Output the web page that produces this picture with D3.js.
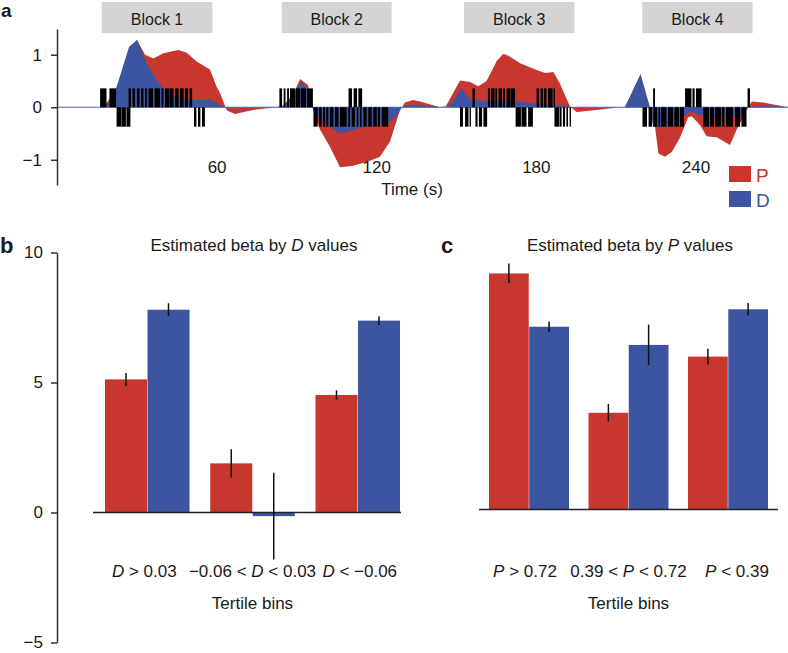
<!DOCTYPE html>
<html><head><meta charset="utf-8">
<script src="https://cdn.jsdelivr.net/npm/d3@7"></script>
<style>
body{margin:0;background:#fff}
svg{display:block}
text{font-family:"Liberation Sans",Arial,Helvetica,sans-serif;fill:#1a1a1a}
</style>
</head><body>
<svg id="chart" width="788" height="653"></svg>
<script>
// ---------- Panel a data ----------
const timeTicks = [60, 120, 180, 240];
const blockLabels = ["Block 1", "Block 2", "Block 3", "Block 4"];
const blockStart = [16.8, 84.5, 153.0, 220.0];
const blockEnd = [58.4, 125.8, 194.5, 261.5];

const pTime = [0,16.2,17.7,22.6,27.1,30.1,33.1,36.2,40.0,45.6,48.8,52.5,57.5,60.0,61.3,63.2,63.9,66.9,73.7,82.6,84.6,88.3,91.4,94.4,95.8,97.0,98.9,102.6,106.4,110.9,116.4,121.4,125.2,128.9,130.8,133.8,136.5,144.0,146.2,151.5,155.3,158.4,161.5,165.3,167.8,169.7,174.1,180.3,183.5,186.6,189.1,192.9,195.4,202.9,211.7,213.5,219.4,222.3,224.8,226.1,228.6,231.1,234.2,237.3,238.6,241.7,244.2,248.0,253.0,255.5,259.3,261.2,265.5,274.8];
const pValue = [0,0,0.02,0.35,1.12,1.28,1.0,0.93,1.03,1.09,1.04,0.87,0.72,0.39,0.27,0.02,-0.06,-0.13,-0.05,0,0.02,0.2,0.54,0.42,0.05,-0.15,-0.43,-0.75,-1.14,-1.12,-1.04,-0.94,-0.65,-0.06,0.09,0.14,0.11,0,0.02,0.51,0.48,0.40,0.50,0.88,1.02,0.98,0.84,0.71,0.65,0.67,0.45,0.01,-0.09,-0.05,0,0,0.63,0,-0.37,-0.88,-0.94,-0.85,-0.58,-0.19,-0.17,-0.34,-0.55,-0.57,-0.72,-0.43,-0.05,0.11,0.09,0];

const dTime = [0,16.2,17.7,18.8,19.9,22.6,27.1,30.1,33.7,37.5,40.0,43.7,51.2,58.2,62.0,63.5,82.6,85.7,88.3,92.0,93.9,95.8,97.6,101.9,106.4,113.9,121.4,125.2,127.8,129.6,132.7,140.2,144.0,147.1,149.6,152.1,155.3,161.5,172.8,177.8,190.3,193.6,213.5,219.4,222.9,224.1,229.3,233.1,235.3,238.0,241.7,249.2,256.8,259.8,264.3,274.8];
const dValue = [0,0,0.03,0.1,0.04,0.42,1.15,1.28,0.84,0.52,0.36,0.2,0.14,0.14,0.02,0,0,0.05,0.23,0.49,0.36,0,-0.15,-0.35,-0.5,-0.4,-0.32,-0.28,-0.15,0,0.05,0.03,0,0,0.17,0.36,0.14,0.12,0.12,0.08,0.03,0,0,0.63,0,-0.37,-0.37,-0.34,-0.18,-0.08,-0.15,-0.2,-0.15,0,0.03,0];

const eventUpLevel = 0.36;
const eventDownLevel = -0.37;
const upEvents = [
 [16.2,18.6],[19.7,22.2],[26.9,27.8],[28.4,29.3],[30.1,31.0],[31.6,32.5],[33.1,33.8],[34.4,36.1],[36.7,38.7],[39.3,40.0],[40.6,42.1],[42.3,43.8],[44.4,45.7],[46.2,47.6],[48.1,49.2],[49.8,50.8],
 [83.6,84.6],[85.2,85.9],[86.5,87.2],[87.6,89.5],[89.8,91.4],[91.7,93.6],[94.0,96.2],[109.6,110.9],[111.5,112.8],[113.3,114.7],
 [156.2,157.1],[162.0,162.8],[163.2,164.5],[164.8,165.4],[166.0,167.3],[167.7,168.4],[169.0,170.5],[170.7,172.2],[180.3,181.2],[181.8,182.7],[183.1,184.0],[184.6,186.3],[186.7,187.2],
 [224.1,224.8],[236.1,238.5],[238.9,239.7],[240.2,242.3],[259.6,260.5]
];
const downEvents = [
 [22.4,24.1],[24.2,25.9],[26.1,27.6],[51.5,52.4],[53.0,53.9],[54.5,55.6],
 [96.4,98.0],[98.5,99.5],[100.0,100.8],[101.2,102.0],[102.6,103.9],[104.5,105.8],[106.4,108.9],[109.5,110.2],[110.8,112.0],[112.7,113.3],[113.9,114.5],[115.2,116.4],[117.0,118.3],[118.9,120.2],[120.6,121.4],[122.1,124.5],
 [151.5,152.6],[153.4,154.7],[155.1,155.6],[157.3,158.1],[158.6,159.8],[160.3,161.7],[172.4,174.4],[174.6,176.5],[177.1,178.9],[187.0,188.7],[188.9,189.7],[190.2,191.0],[191.5,192.1],[192.7,193.2],
 [220.1,221.8],[222.4,223.7],[224.2,225.6],[226.1,226.7],[227.1,229.1],[229.7,231.6],[232.1,233.8],[234.2,235.7],[243.0,245.1],[245.5,247.0],[247.4,249.6],[250.0,250.9],[251.5,254.1],[254.9,256.8],[257.3,259.2]
];

// ---------- Panel b data (by D values) ----------
const dBins = ["D > 0.03", "\u22120.06 < D < 0.03", "D < \u22120.06"];
const dBinBetaP = [5.12, 1.89, 4.52];
const dBinBetaPErr = [0.25, 0.54, 0.18];
const dBinBetaD = [7.8, -0.14, 7.38];
const dBinBetaDErr = [0.25, 1.67, 0.17];

// ---------- Panel c data (by P values) ----------
const pBins = ["P > 0.72", "0.39 < P < 0.72", "P < 0.39"];
const pBinBetaP = [9.08, 3.72, 5.88];
const pBinBetaPErr = [0.38, 0.34, 0.3];
const pBinBetaD = [7.03, 6.33, 7.7];
const pBinBetaDErr = [0.2, 0.78, 0.24];

const betaTicks = [-5, 0, 5, 10];
const seriesNames = ["P", "D"];

// ---------- Styles ----------
const RED = "#c8372d", BLUE = "#3d54a1", AX = "#333";
const FS = 17;
const svg = d3.select("#chart");

// ================= Panel a =================
const xA = d3.scaleLinear().domain([0, 274.8]).range([57, 788]);
const yA = d3.scaleLinear().domain([-1.48, 1.49]).range([185, 29]);

const gA = svg.append("g");

gA.selectAll("rect.block").data(blockLabels).join("rect")
  .attr("class","block")
  .attr("x",(d,i)=>xA(blockStart[i]))
  .attr("width",(d,i)=>xA(blockEnd[i])-xA(blockStart[i]))
  .attr("y",2).attr("height",31)
  .attr("fill","#d4d4d4");
gA.selectAll("text.block").data(blockLabels).join("text")
  .attr("class","block")
  .attr("x",(d,i)=>(xA(blockStart[i])+xA(blockEnd[i]))/2)
  .attr("y",24.5)
  .attr("text-anchor","middle")
  .attr("font-size",16)
  .text(d=>d);

const area = d3.area().x(d=>xA(d[0])).y0(yA(0)).y1(d=>yA(d[1]));
gA.append("path").datum(d3.zip(pTime,pValue)).attr("d",area).attr("fill",RED);
gA.append("path").datum(d3.zip(dTime,dValue)).attr("d",area).attr("fill",BLUE);

gA.append("line").attr("x1",xA(0)).attr("x2",xA(274.8)).attr("y1",yA(0)).attr("y2",yA(0))
  .attr("stroke","#4a64b8").attr("stroke-width",1);

gA.selectAll("rect.up").data(upEvents).join("rect")
  .attr("x",d=>xA(d[0])).attr("width",d=>xA(d[1])-xA(d[0]))
  .attr("y",yA(eventUpLevel)).attr("height",yA(0)-yA(eventUpLevel))
  .attr("fill","#000");
gA.selectAll("rect.down").data(downEvents).join("rect")
  .attr("x",d=>xA(d[0])).attr("width",d=>xA(d[1])-xA(d[0]))
  .attr("y",yA(0)).attr("height",yA(eventDownLevel)-yA(0))
  .attr("fill","#000");

const axA = gA.append("g").attr("transform","translate(57,0)")
  .call(d3.axisLeft(yA).tickValues([-1,0,1]).tickFormat(d3.format("d")).tickSize(6).tickSizeOuter(0).tickPadding(9));
axA.select(".domain").attr("stroke",AX).attr("stroke-width",1.5);
axA.selectAll(".tick line").attr("stroke",AX).attr("stroke-width",1.5);
axA.selectAll(".tick text").attr("font-size",FS).attr("font-family",null).attr("fill","#1a1a1a");

const axX = gA.append("g")
  .call(d3.axisBottom(xA).tickValues(timeTicks).tickSize(0).tickFormat(d3.format("d")));
axX.select(".domain").remove();
axX.selectAll(".tick text").attr("y",173).attr("dy",null).attr("font-size",FS).attr("font-family",null).attr("fill","#1a1a1a");

gA.append("text").attr("x",412).attr("y",195).attr("text-anchor","middle").attr("font-size",FS).text("Time (s)");

const legend = gA.append("g");
seriesNames.forEach((s,i)=>{
  legend.append("rect").attr("x",729).attr("y",166+i*25).attr("width",22).attr("height",16)
    .attr("fill", s==="P"?RED:BLUE);
  legend.append("text").attr("x",756).attr("y",182+i*25).attr("font-size",19)
    .style("fill", s==="P"?RED:BLUE).text(s);
});

svg.append("text").attr("x",1).attr("y",17).attr("font-size",19).attr("font-weight","bold").text("a");

// ================= Bar panels =================
function italicLabel(sel, str, v){
  const parts = str.split(v);
  parts.forEach((p,i)=>{
    if(p.length) sel.append("tspan").text(p);
    if(i<parts.length-1) sel.append("tspan").attr("font-style","italic").text(v);
  });
}

function barPanel(opts){
  const g = svg.append("g");
  const y = d3.scaleLinear().domain([-5,10]).range(opts.yRange);
  const x = d3.scaleBand().domain(opts.bins).range(opts.xRange).paddingInner(opts.padInner).paddingOuter(0);
  const xs = d3.scaleBand().domain(seriesNames).range([0,x.bandwidth()]).paddingInner(0.012);
  const vals = {P:opts.betaP, D:opts.betaD};
  const errs = {P:opts.betaPErr, D:opts.betaDErr};
  seriesNames.forEach(s=>{
    g.selectAll("rect.b"+s).data(opts.bins).join("rect")
      .attr("x",d=>x(d)+xs(s)).attr("width",xs.bandwidth())
      .attr("y",(d,i)=>y(Math.max(0,vals[s][i])))
      .attr("height",(d,i)=>Math.abs(y(vals[s][i])-y(0)))
      .attr("fill", s==="P"?RED:BLUE);
  });
  g.append("line").attr("x1",opts.xRange[0]-opts.baseLeft).attr("x2",opts.xRange[1]+opts.baseRight)
    .attr("y1",y(0)).attr("y2",y(0)).attr("stroke","#222").attr("stroke-width",1.6);
  seriesNames.forEach(s=>{
    g.selectAll("line.e"+s).data(opts.bins).join("line")
      .attr("x1",d=>x(d)+xs(s)+xs.bandwidth()/2).attr("x2",d=>x(d)+xs(s)+xs.bandwidth()/2)
      .attr("y1",(d,i)=>y(vals[s][i]-errs[s][i])).attr("y2",(d,i)=>y(vals[s][i]+errs[s][i]))
      .attr("stroke","#111").attr("stroke-width",1.5);
  });
  if(opts.axis){
    const ax = g.append("g").attr("transform","translate(57,0)")
      .call(d3.axisLeft(y).tickValues(betaTicks).tickSize(6).tickSizeOuter(0).tickPadding(8));
    ax.select(".domain").attr("stroke",AX).attr("stroke-width",1.5);
    ax.selectAll(".tick line").attr("stroke",AX).attr("stroke-width",1.5);
    ax.selectAll(".tick text").attr("font-size",FS).attr("font-family",null).attr("fill","#1a1a1a");
  }
  opts.bins.forEach((b,i)=>{
    const t = g.append("text").attr("x",x(b)+x.bandwidth()/2 + opts.labelShift[i]).attr("y",577)
      .attr("text-anchor","middle").attr("font-size",FS);
    italicLabel(t,b,opts.v);
  });
  const cx = (opts.xRange[0]+opts.xRange[1])/2;
  g.append("text").attr("x",cx).attr("y",609).attr("text-anchor","middle").attr("font-size",FS).text("Tertile bins");
  const title = g.append("text").attr("x",opts.titleX).attr("y",251).attr("text-anchor","middle").attr("font-size",FS);
  title.append("tspan").text("Estimated beta by ");
  title.append("tspan").attr("font-style","italic").text(opts.v);
  title.append("tspan").text(" values");
  svg.append("text").attr("x",opts.labelX).attr("y",253).attr("font-size",22).attr("font-weight","bold").text(opts.label);
}

barPanel({bins:dBins, v:"D", betaP:dBinBetaP, betaPErr:dBinBetaPErr, betaD:dBinBetaD, betaDErr:dBinBetaDErr,
  yRange:[642.5,252.5], xRange:[105,400], padInner:0.197, baseLeft:12, baseRight:1, axis:true,
  titleX:254, label:"b", labelX:0, labelShift:[-3,0,2]});
barPanel({bins:pBins, v:"P", betaP:pBinBetaP, betaPErr:pBinBetaPErr, betaD:pBinBetaD, betaDErr:pBinBetaDErr,
  yRange:[639.5,249.5], xRange:[489,768], padInner:0.196, baseLeft:10, baseRight:10, axis:false,
  titleX:630, label:"c", labelX:441, labelShift:[-4,0,9]});
</script>
</body></html>
